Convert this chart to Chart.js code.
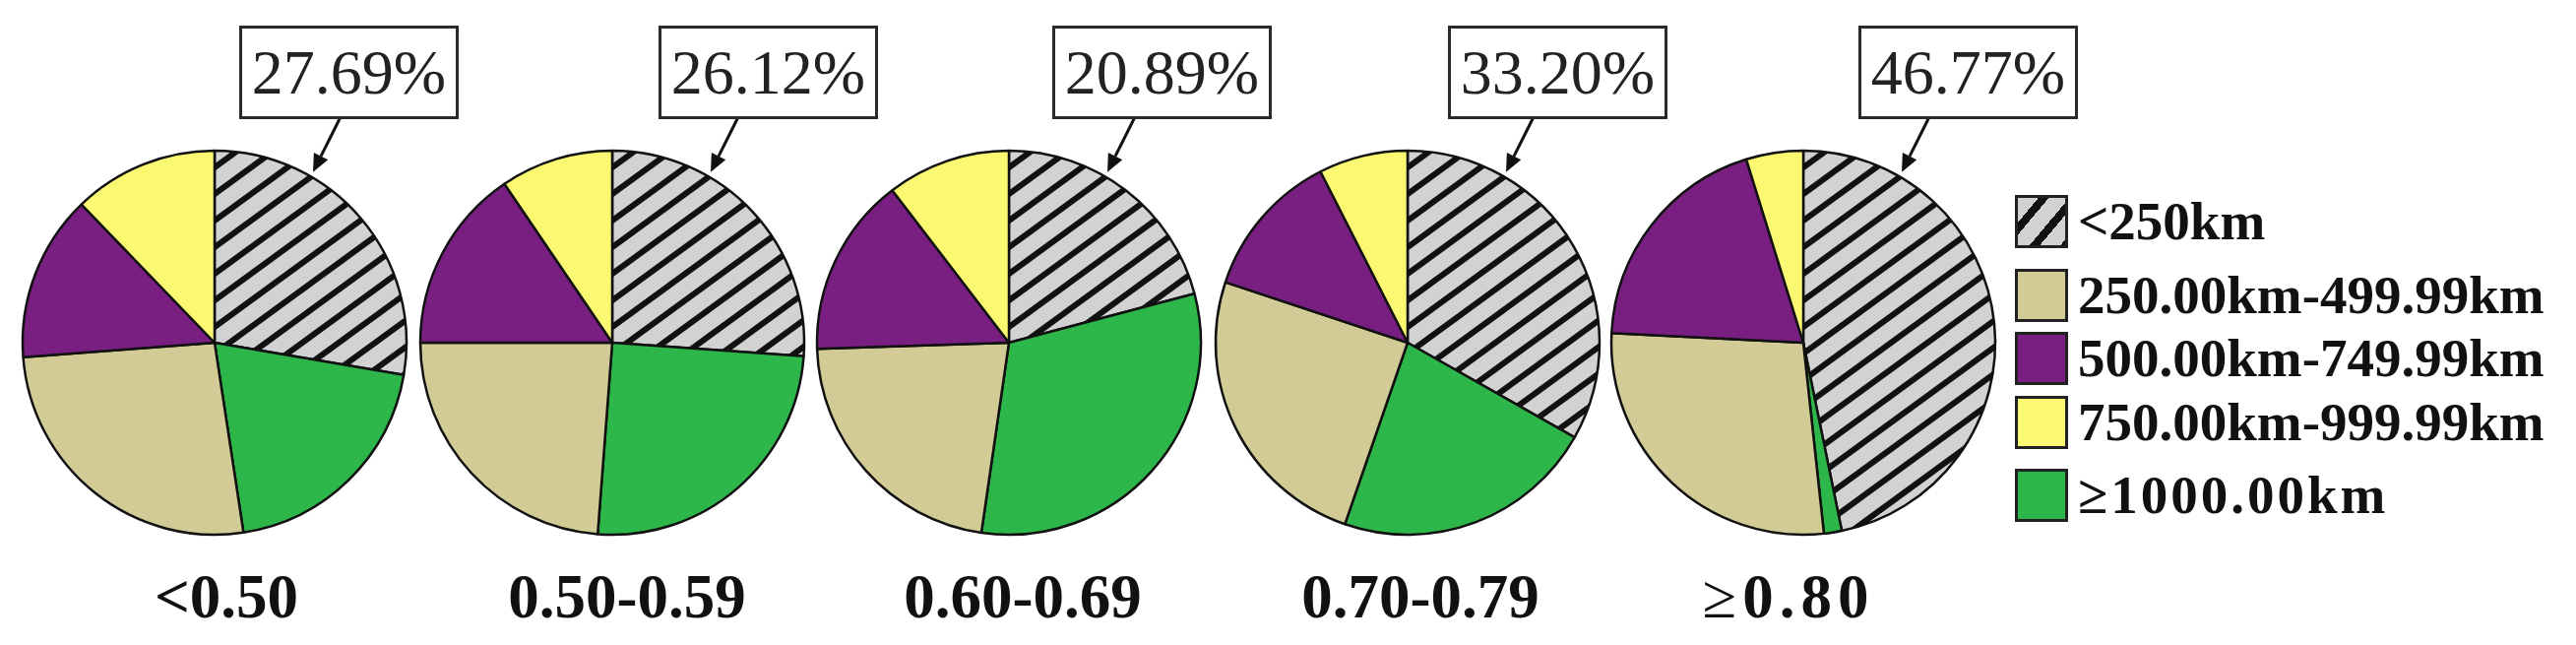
<!DOCTYPE html>
<html>
<head>
<meta charset="utf-8">
<script src="https://cdn.jsdelivr.net/npm/chart.js@4.4.0/dist/chart.umd.min.js"></script>
<style>
  html, body { margin: 0; padding: 0; background: #fff; }
  #wrap { position: relative; width: 2617px; height: 655px; overflow: hidden; font-family: "Liberation Serif", "Times New Roman", serif; }
  .pie { position: absolute; top: 100px; }
  .callout { position: absolute; top: 26px; width: 217px; height: 89px; border: 3px solid #2a2a2a; background: #fff;
             font-size: 64px; line-height: 89px; text-align: center; color: #222; }
  .group { position: absolute; top: 575px; width: 300px; margin-left: -150px; text-align: center;
           font-size: 63px; line-height: 63px; font-weight: bold; color: #111; }
  .group .ge { font-weight: normal; }
  #legend { position: absolute; left: 2047px; top: 0; }
  .row { position: absolute; left: 0; height: 54px; white-space: nowrap; }
  .sw { position: absolute; left: 0; top: 0; width: 48px; height: 48px; border: 3px solid #222; }
  .lab { position: absolute; left: 64px; top: 0; font-size: 55px; line-height: 54px; font-weight: bold; color: #111; }
</style>
</head>
<body>
<div id="wrap"></div>
<script>
'use strict';

// ── data ──
const groups = ['<0.50', '0.50-0.59', '0.60-0.69', '0.70-0.79', '≥0.80'];
const distances = ['<250km', '250.00km-499.99km', '500.00km-749.99km', '750.00km-999.99km', '≥1000.00km'];

// share of each distance band (%), one value per group
const under250 = [27.69, 26.12, 20.89, 33.20, 46.77];
const km250to500 = [26.2, 23.8, 22.2, 24.8, 27.5];
const km500to750 = [14.0, 15.5, 15.1, 12.4, 19.4];
const km750to1000 = [12.2, 9.5, 10.4, 7.5, 4.8];
const over1000 = [19.9, 25.1, 31.4, 22.1, 1.5];

// ── layout ──
const pieCenters = [218, 622, 1025, 1430, 1832];
const boxLefts = [243, 669, 1069, 1471, 1888];
const labelCenters = [230, 637, 1039, 1443, 1817];

const COL = { tan: '#d3cb95', purple: '#7a1f82', yellow: '#fbf871', green: '#2db74b', gray: '#d2d2d2' };

// diagonal "/" stripes, about 36 degrees from horizontal
function makeHatch() {
  const w = 37, h = 27;
  const c = document.createElement('canvas');
  c.width = w; c.height = h;
  const g = c.getContext('2d');
  g.fillStyle = COL.gray;
  g.fillRect(0, 0, w, h);
  g.strokeStyle = '#111';
  g.lineWidth = 6;
  g.beginPath();
  for (const dx of [-w, 0, w]) {
    g.moveTo(dx - w * 0.2, h * 1.2);
    g.lineTo(dx + w * 1.2, -h * 0.2);
  }
  g.stroke();
  return g.createPattern(c, 'repeat');
}
const hatch = makeHatch();

// arrow from the callout box down to the hatched slice
const calloutArrow = {
  id: 'calloutArrow',
  afterDraw(chart) {
    const arc = chart.getDatasetMeta(0).data[0];
    if (!arc) return;
    const ctx = chart.ctx;
    const a = 30 * Math.PI / 180;
    const tipX = arc.x + (arc.outerRadius + 5) * Math.sin(a);
    const tipY = arc.y - (arc.outerRadius + 5) * Math.cos(a);
    const tailX = tipX + 28, tailY = tipY - 56;
    const ang = Math.atan2(tipY - tailY, tipX - tailX);
    const hl = 18, hw = 8;
    const bx = tipX - hl * Math.cos(ang), by = tipY - hl * Math.sin(ang);
    ctx.save();
    ctx.strokeStyle = '#111';
    ctx.fillStyle = '#111';
    ctx.lineWidth = 3;
    ctx.beginPath();
    ctx.moveTo(tailX, tailY);
    ctx.lineTo(bx, by);
    ctx.stroke();
    ctx.beginPath();
    ctx.moveTo(tipX, tipY);
    ctx.lineTo(bx + hw * Math.sin(ang), by - hw * Math.cos(ang));
    ctx.lineTo(bx - hw * Math.sin(ang), by + hw * Math.cos(ang));
    ctx.closePath();
    ctx.fill();
    ctx.restore();
  }
};

const wrap = document.getElementById('wrap');

groups.forEach((g, i) => {
  const cv = document.createElement('canvas');
  cv.className = 'pie';
  cv.width = 400; cv.height = 460;
  cv.style.left = (pieCenters[i] - 200) + 'px';
  wrap.appendChild(cv);

  // clockwise from 12 o'clock: <250, ≥1000, 250-500, 500-750, 750-1000
  new Chart(cv.getContext('2d'), {
    type: 'pie',
    data: {
      labels: [distances[0], distances[4], distances[1], distances[2], distances[3]],
      datasets: [{
        data: [under250[i], over1000[i], km250to500[i], km500to750[i], km750to1000[i]],
        backgroundColor: [hatch, COL.green, COL.tan, COL.purple, COL.yellow],
        borderColor: '#111',
        borderWidth: 2.5
      }]
    },
    options: {
      responsive: false,
      animation: false,
      radius: 195,
      layout: { padding: { top: 48, bottom: 12, left: 0, right: 0 } },
      plugins: { legend: { display: false }, tooltip: { enabled: false } }
    },
    plugins: [calloutArrow]
  });

  const box = document.createElement('div');
  box.className = 'callout';
  box.style.left = boxLefts[i] + 'px';
  box.textContent = under250[i].toFixed(2) + '%';
  wrap.appendChild(box);

  const lab = document.createElement('div');
  lab.className = 'group';
  lab.style.left = labelCenters[i] + 'px';
  if (g.startsWith('≥')) {
    lab.style.letterSpacing = '6px';
    lab.innerHTML = '<span class="ge">≥</span>' + g.slice(1);
  } else {
    lab.textContent = g;
  }
  wrap.appendChild(lab);
});

// ── legend ──
const legend = document.createElement('div');
legend.id = 'legend';
wrap.appendChild(legend);
const legendTops = [198, 273, 337, 402, 476];
const legendFills = [null, COL.tan, COL.purple, COL.yellow, COL.green];
distances.forEach((d, k) => {
  const row = document.createElement('div');
  row.className = 'row';
  row.style.top = legendTops[k] + 'px';
  const sw = document.createElement('div');
  sw.className = 'sw';
  if (k === 0) {
    sw.style.background = 'repeating-linear-gradient(130deg, ' + COL.gray + ' 0 16px, #111 16px 24px)';
  } else {
    sw.style.background = legendFills[k];
  }
  const lab = document.createElement('div');
  lab.className = 'lab';
  lab.textContent = d;
  if (d.startsWith('≥')) lab.style.letterSpacing = '3px';
  row.appendChild(sw);
  row.appendChild(lab);
  legend.appendChild(row);
});
</script>
</body>
</html>
